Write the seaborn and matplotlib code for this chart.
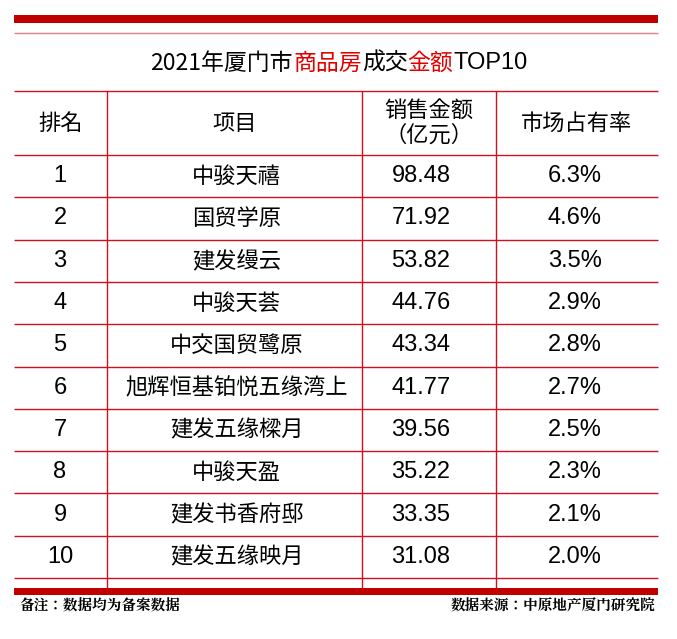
import matplotlib
matplotlib.use("Agg")
import matplotlib.pyplot as plt
from matplotlib import font_manager as fm
import seaborn as sns

ranks = ["1", "2", "3", "4", "5", "6", "7", "8", "9", "10"]
projects = ["中骏天禧", "国贸学原", "建发缦云", "中骏天荟", "中交国贸鹭原",
            "旭辉恒基铂悦五缘湾上", "建发五缘樑月", "中骏天盈", "建发书香府邸", "建发五缘映月"]
sales = [98.48, 71.92, 53.82, 44.76, 43.34, 41.77, 39.56, 35.22, 33.35, 31.08]
shares = ["6.3%", "4.6%", "3.5%", "2.9%", "2.8%", "2.7%", "2.5%", "2.3%", "2.1%", "2.0%"]
headers = ["排名", "项目", "销售金额\n（亿元）", "市场占有率"]
title_parts = [("2021年厦门市", "black"), ("商品房", "#e00000"), ("成交", "black"),
               ("金额", "#e00000"), ("TOP10", "black")]
note_left = "备注：数据均为备案数据"
note_right = "数据来源：中原地产厦门研究院"

sns.set_theme(style="white")
files = [f for f in fm.findSystemFonts() if "CJK" in f]
def pick(word):
    for f in files:
        n = f.split("/")[-1]
        if word in n and ("SC" in n or "CJK-" in n or "CJKsc" in n or "ttc" in n):
            return f
    return None
reg = pick("Regular") or files[0]
med = pick("Medium") or reg
bold = pick("Bold") or med
def CJK(size, fname=None):
    return fm.FontProperties(fname=fname or med, size=size)
def NUM(size):
    return fm.FontProperties(family="Liberation Sans", size=size)

RED = "#c00000"
LINE = "#d01020"

fig = plt.figure(figsize=(6.77, 6.39), dpi=100)
ax = fig.add_axes([0, 0, 1, 1])
ax.set_xlim(0, 677)
ax.set_ylim(639, 0)
ax.axis("off")

ax.fill_between([14, 658], 15, 23, color=RED, lw=0)
ax.hlines(33, 14, 658, color="#e08080", lw=1)

fig.canvas.draw()
r = fig.canvas.get_renderer()
texts = []
for s, c in title_parts:
    fp = NUM(17) if s.isascii() else CJK(16.5, reg)
    texts.append(ax.text(0, 63, s, color=c, fontproperties=fp, va="center", ha="left"))
widths = [t.get_window_extent(r).width for t in texts]
x = 339 - sum(widths) / 2
for t, w in zip(texts, widths):
    t.set_x(x)
    x += w

cols = [14, 107, 362, 496, 658]
top, hdr_bot, row_h = 91, 155, 42.3
ax.hlines([top, hdr_bot] + [hdr_bot + row_h * (i + 1) for i in range(len(ranks))],
          14, 658, color=LINE, lw=1)
ax.vlines(cols[1:4], top, 588, color=LINE, lw=1)
ax.fill_between([14, 658], 588, 595, color=RED, lw=0)

centers = [(cols[i] + cols[i + 1]) / 2 for i in range(4)]
for cx, h in zip(centers, headers):
    ax.text(cx, (top + hdr_bot) / 2, h, ha="center", va="center", fontproperties=CJK(16, reg),
            color="black", linespacing=1.1)

for i in range(len(ranks)):
    cy = hdr_bot + row_h * (i + 0.5)
    ax.text(60, cy, ranks[i], ha="center", va="center", fontproperties=NUM(17), color="black")
    ax.text(centers[1] + 2, cy, projects[i], ha="center", va="center", fontproperties=CJK(16, reg), color="black")
    ax.text(421, cy, f"{sales[i]:.2f}", ha="center", va="center", fontproperties=NUM(17), color="black")
    ax.text(centers[3] - 2, cy, shares[i], ha="center", va="center", fontproperties=NUM(17), color="black")

ax.text(20, 607, note_left, ha="left", va="center", fontproperties=CJK(10.5, bold), color="black")
ax.text(655, 607, note_right, ha="right", va="center", fontproperties=CJK(10.5, bold), color="black")

fig.savefig("out.png", dpi=100)
